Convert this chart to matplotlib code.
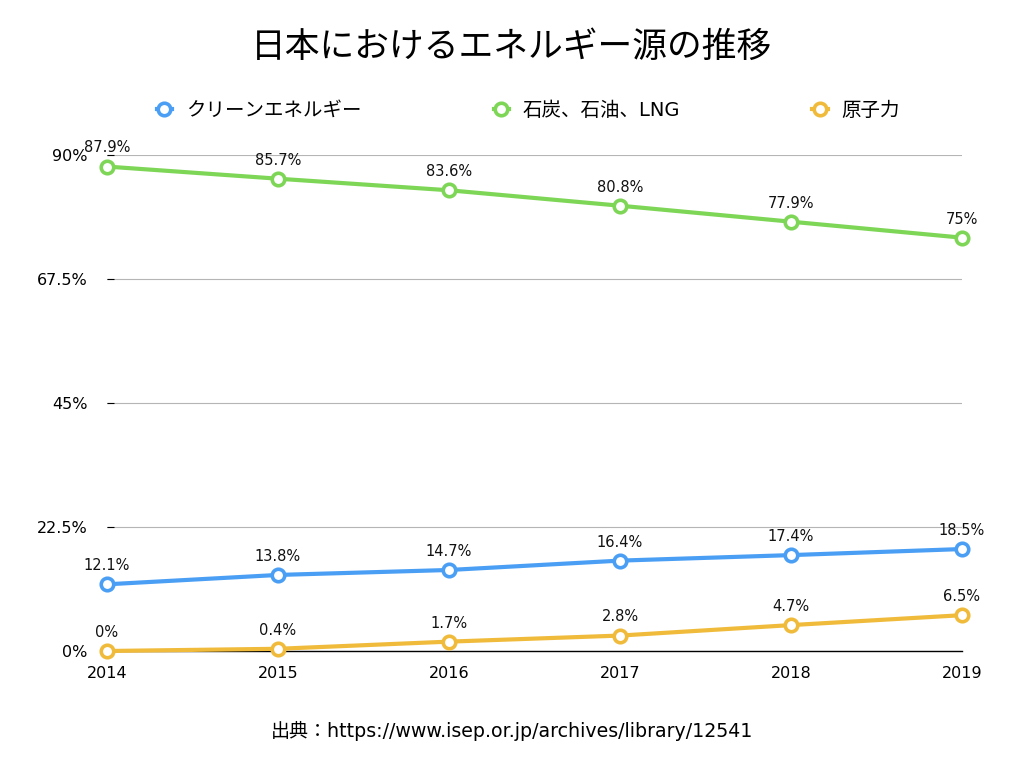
import matplotlib
matplotlib.use("Agg")
import matplotlib.pyplot as plt
from matplotlib.ticker import FuncFormatter

plt.rcParams['font.family'] = ['DejaVu Sans', 'Noto Sans CJK JP']

years = [2014, 2015, 2016, 2017, 2018, 2019]
clean = [12.1, 13.8, 14.7, 16.4, 17.4, 18.5]
fossil = [87.9, 85.7, 83.6, 80.8, 77.9, 75.0]
nuclear = [0.0, 0.4, 1.7, 2.8, 4.7, 6.5]
series_names = ["クリーンエネルギー", "石炭、石油、LNG", "原子力"]
colors = ["#4a9ff5", "#7ed657", "#f0bb3b"]
yticks = [0, 22.5, 45, 67.5, 90]
title = "日本におけるエネルギー源の推移"
source = "出典：https://www.isep.or.jp/archives/library/12541"

fig = plt.figure(figsize=(10.24, 7.68), dpi=100)
ax = fig.add_axes([107/1024, 1-651/768, (962-107)/1024, (651-155)/768])

for vals, name, c in zip([clean, fossil, nuclear], series_names, colors):
    ax.plot(years, vals, color=c, lw=3, marker='o', markersize=9,
            markerfacecolor='white', markeredgecolor=c, markeredgewidth=2.6,
            label=name, clip_on=False, zorder=3)
    for x, v in zip(years, vals):
        lab = f"{v:g}%"
        ax.annotate(lab, (x, v), xytext=(0, 8), textcoords='offset points',
                    ha='center', va='bottom', fontsize=10.5, color='#111111', zorder=4)

ax.set_xlim(2014, 2019)
ax.set_ylim(0, 90)
ax.set_xticks(years)
ax.set_yticks(yticks)
ax.yaxis.set_major_formatter(FuncFormatter(lambda v, p: f"{v:g}%"))
ax.tick_params(axis='x', length=0, pad=11, labelsize=11.5)
ax.tick_params(axis='y', length=5, width=0.8, pad=14, labelsize=11.5, direction='in')
ax.grid(axis='y', color='#b5b5b5', lw=0.8)
ax.set_axisbelow(True)
for s in ['top', 'right', 'left']:
    ax.spines[s].set_visible(False)
ax.spines['bottom'].set_color('black')
ax.spines['bottom'].set_linewidth(1)

fig.text(0.5, 1-47/768, title, ha='center', va='center', fontsize=25,
         family=['Noto Sans CJK JP', 'DejaVu Sans'])
handles, labels = ax.get_legend_handles_labels()
fig.legend(handles, labels, loc='center', bbox_to_anchor=(0.516, 1-110/768), ncol=3,
           frameon=False, fontsize=14, handlelength=0.8, handletextpad=0.7,
           columnspacing=6.8)
fig.text(0.5, 1-731/768, source, ha='center', va='center', fontsize=13.7)

fig.savefig("out.png", dpi=100)
